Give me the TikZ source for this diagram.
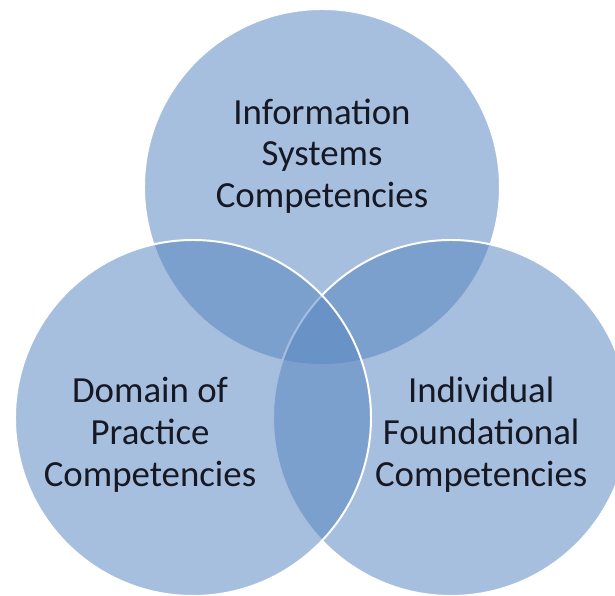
\documentclass[tikz,border=0pt]{standalone}
\usepackage{fontspec}
\setmainfont{Carlito}
\usepackage{xcolor}
\usetikzlibrary{positioning}
\definecolor{compblue}{RGB}{86,132,192}
\definecolor{textdark}{RGB}{22,24,36}

\begin{document}
\begin{tikzpicture}[
    comp/.style={circle, minimum size=8.9cm, inner sep=0pt, fill=compblue, fill opacity=0.52, draw=white, draw opacity=1, line width=1.4pt},
    compText/.style={align=center, text=textdark, font=\fontsize{26.2}{29.6}\selectfont}
]
    % page
    \useasboundingbox (0,0) rectangle (15.375,14.9);

    % Circles
    \node[comp] (info) at (8.05, 10.225) {};
    \node[comp] (indiv) at (11.275, 4.45) {};
    \node[comp] (domain) at (4.825, 4.45) {};

    % Labels
    \node[compText] (infoText) at (8.05, 11.0) {Information\\Systems\\Competencies};
    \node[compText] (domainText) at (3.75, 4.03) {Domain of\\Practice\\Competencies};
    \node[compText] (indivText) at (12.03, 4.03) {Individual\\Foundational\\Competencies};
\end{tikzpicture}
\end{document}
